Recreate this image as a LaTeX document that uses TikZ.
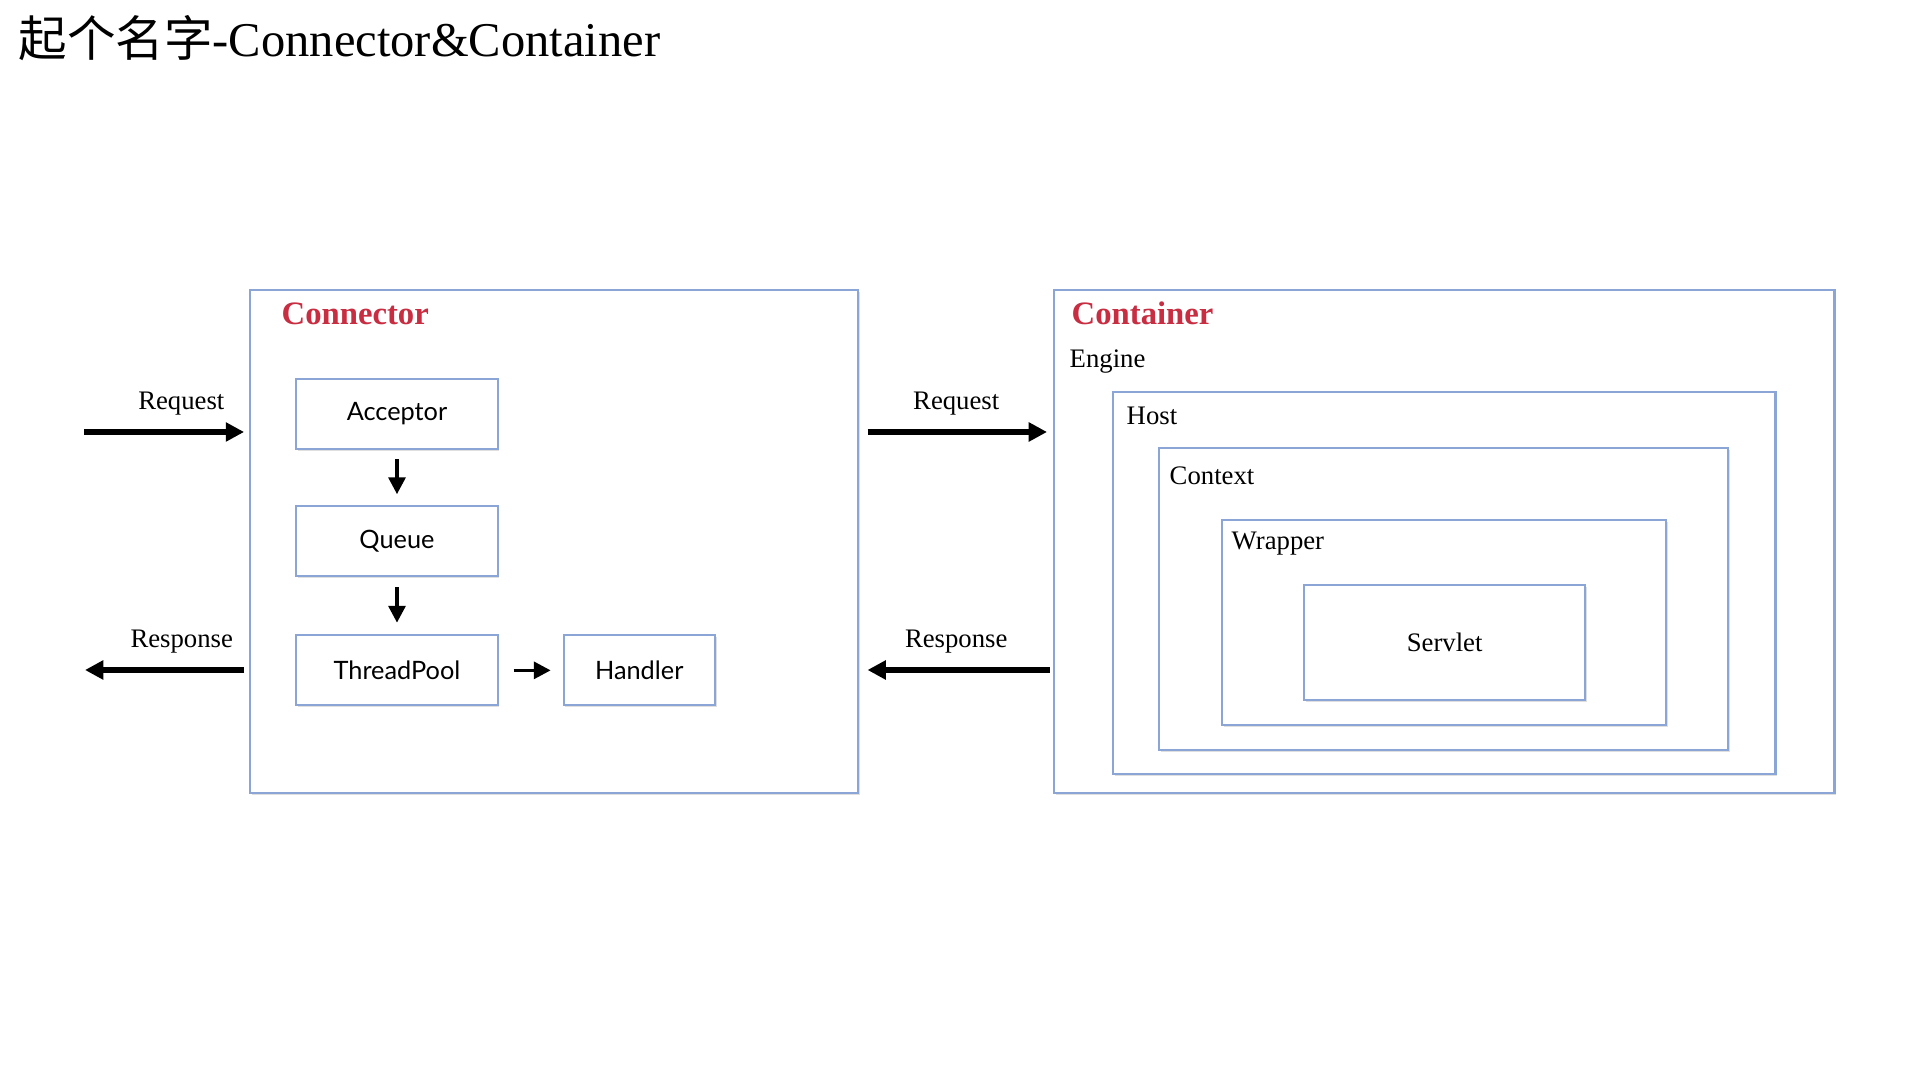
\documentclass[tikz,border=0pt]{standalone}
\usepackage{fontspec}
\setmainfont{Liberation Serif}
\newfontfamily\cjkfont{Noto Sans CJK SC}
\newfontfamily\boxfont{Lato}
\usetikzlibrary{calc, positioning, arrows.meta, shadows}

\definecolor{boxblue}{RGB}{140,165,215}
\definecolor{headred}{RGB}{200,45,65}

\tikzset{
  panel/.style={draw=boxblue, line width=0.6pt, fill=white, anchor=north west, inner sep=0pt,
    drop shadow={shadow xshift=0.5pt, shadow yshift=-0.5pt, opacity=0.25}},
  stage/.style={panel, anchor=center, minimum width=2.01cm, minimum height=0.7cm,
    font=\boxfont\fontsize{7.2}{8}\selectfont},
  headline/.style={anchor=base west, inner sep=0pt, text=headred, font=\bfseries\fontsize{9.3}{11}\selectfont},
  layer/.style={anchor=base west, inner sep=0pt, font=\fontsize{7.6}{9}\selectfont},
  flow/.style={-{Triangle[length=5.2pt,width=5.2pt]}, line width=1.5pt},
  hop/.style={-{Triangle[length=4.8pt,width=4.8pt]}, line width=1pt},
  flowlabel/.style={above=4pt, inner sep=0pt, font=\fontsize{7.6}{9}\selectfont}
}

\begin{document}
\begin{tikzpicture}[x=0.01cm, y=-0.01cm]
  \path[use as bounding box, fill=white] (0,0) rectangle (1920,1080);

  \node[anchor=base west, inner sep=0pt, font=\fontsize{13.8}{16}\selectfont] (title) at (18,57)
    {{\cjkfont 起个名字}-Connector\&Container};

  % connector
  \node[panel, minimum width=6.08cm, minimum height=5.03cm] (conn) at (249,289) {};
  \node[headline] (conntitle) at ($(conn.north west)+(32,36)$) {Connector};
  \node[stage] (acceptor) at (397,414) {Acceptor};
  \node[stage, below=0.55cm of acceptor] (queue) {Queue};
  \node[stage, below=0.57cm of queue] (pool) {ThreadPool};
  \node[stage, minimum width=1.51cm, right=0.64cm of pool] (handler) {Handler};
  \draw[hop, shorten <=2.6pt, shorten >=3.1pt] (acceptor) -- (queue);
  \draw[hop, shorten <=2.8pt, shorten >=3.3pt] (queue) -- (pool);
  \draw[hop, shorten <=4.3pt, shorten >=3.4pt] (pool) -- (handler);

  % container
  \node[panel, minimum width=7.8cm, minimum height=5.03cm] (cont) at (1053,289) {};
  \node[headline] (conttitle) at ($(cont.north west)+(18,36)$) {Container};
  \node[layer] (engine) at ($(cont.north west)+(16,79)$) {Engine};
  \node[panel, minimum width=6.62cm, minimum height=3.82cm] (host) at (1112,391) {};
  \node[layer] (hosttitle) at ($(host.north west)+(14,34)$) {Host};
  \node[panel, minimum width=5.69cm, minimum height=3.02cm] (ctx) at (1158,447) {};
  \node[layer] (ctxtitle) at ($(ctx.north west)+(11,38)$) {Context};
  \node[panel, minimum width=4.44cm, minimum height=2.05cm] (wrap) at (1221,519) {};
  \node[layer] (wraptitle) at ($(wrap.north west)+(10,31)$) {Wrapper};
  \node[panel, minimum width=2.81cm, minimum height=1.15cm, font=\fontsize{7.6}{9}\selectfont] (servlet) at (1303,584) {Servlet};

  % request / response
  \coordinate (reqin) at (84,432);
  \coordinate (resout) at (85,670);
  \draw[flow, shorten >=1.4pt] (reqin) -- (reqin -| conn.west)
    node[flowlabel, pos=0.59] (reqlabel) {Request};
  \draw[flow, shorten <=1.4pt] (resout -| conn.west) -- (resout)
    node[flowlabel, pos=0.41] (reslabel) {Response};
  \draw[flow, shorten <=2.3pt, shorten >=1.7pt] (reqin -| conn.east) -- (reqin -| cont.west)
    node[flowlabel, midway] (reqlabel2) {Request};
  \draw[flow, shorten <=0.9pt, shorten >=2.3pt] (resout -| cont.west) -- (resout -| conn.east)
    node[flowlabel, midway] (reslabel2) {Response};
\end{tikzpicture}
\end{document}
